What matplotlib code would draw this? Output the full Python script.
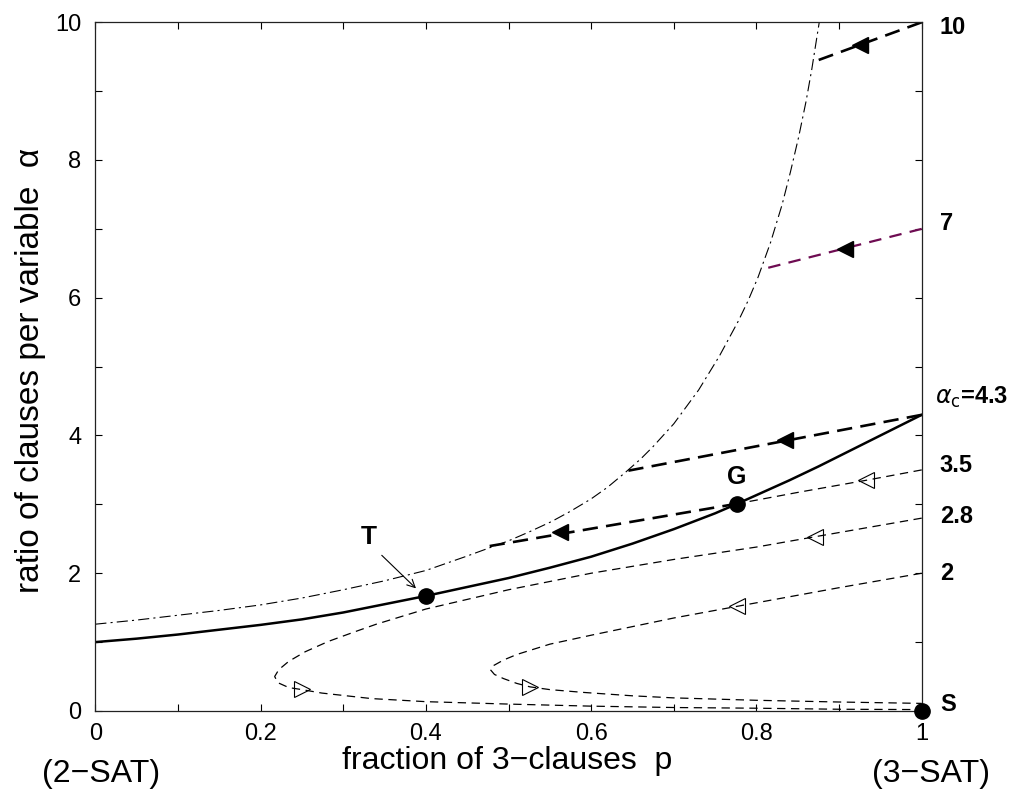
import matplotlib
matplotlib.use('Agg')
import matplotlib.pyplot as plt
import matplotlib.ticker as plticker

plt.rcParams['font.family'] = ['Liberation Sans', 'DejaVu Sans']
plt.rcParams['lines.scale_dashes'] = False

# threshold line alpha_c(p), solid
threshP = [0.0, 0.05, 0.1, 0.15, 0.2, 0.25, 0.3, 0.35, 0.4, 0.45, 0.5, 0.55,
           0.6, 0.65, 0.7, 0.75, 0.777, 0.84, 0.875, 0.9, 0.925, 0.95, 0.975, 1.0]
threshA = [1.0, 1.05, 1.11, 1.18, 1.25, 1.33, 1.43, 1.55, 1.67, 1.80, 1.93, 2.08,
           2.24, 2.43, 2.64, 2.87, 3.01, 3.35, 3.55, 3.70, 3.85, 4.00, 4.15, 4.3]

# dash-dot curve (where the unsat trajectories stop)
haltP = [0.0, 0.05, 0.1, 0.15, 0.2, 0.25, 0.3, 0.35, 0.4, 0.45, 0.475, 0.5,
         0.525, 0.552, 0.575, 0.6, 0.62, 0.641, 0.66, 0.675, 0.7, 0.73, 0.755,
         0.778, 0.79, 0.802, 0.817, 0.831, 0.841, 0.851, 0.86, 0.867, 0.874,
         0.876]
haltA = [1.26, 1.32, 1.39, 1.46, 1.54, 1.64, 1.76, 1.89, 2.04, 2.25, 2.36, 2.47,
         2.60, 2.75, 2.90, 3.08, 3.25, 3.46, 3.66, 3.84, 4.17, 4.66, 5.15,
         5.66, 5.96, 6.30, 6.80, 7.35, 7.82, 8.33, 8.85, 9.32, 9.85, 10.0]

# trajectories in the sat region (thin dashed, open triangles)
traj35P = [1.0, 0.933, 0.853, 0.777]
traj35A = [3.5, 3.35, 3.18, 3.01]
traj28P = [1.0, 0.871, 0.8, 0.7, 0.6, 0.5, 0.45, 0.4, 0.34, 0.314, 0.282, 0.254,
           0.234, 0.222, 0.217, 0.221, 0.234, 0.25, 0.274, 0.334, 0.4, 0.5,
           0.6, 0.7, 0.8, 0.9, 1.0]
traj28A = [2.8, 2.53, 2.38, 2.20, 2.0, 1.76, 1.62, 1.48, 1.26, 1.15, 1.01, 0.86,
           0.72, 0.60, 0.50, 0.41, 0.34, 0.31, 0.26, 0.18, 0.135, 0.10,
           0.07, 0.05, 0.04, 0.025, 0.02]
traj2P = [1.0, 0.9, 0.777, 0.7, 0.6, 0.55, 0.51, 0.494, 0.482, 0.478, 0.483,
          0.494, 0.51, 0.526, 0.55, 0.59, 0.65, 0.7, 0.8, 0.9, 1.0]
traj2A = [2.0, 1.79, 1.52, 1.35, 1.10, 0.97, 0.82, 0.74, 0.66, 0.60, 0.53,
          0.47, 0.40, 0.35, 0.31, 0.27, 0.22, 0.19, 0.155, 0.13, 0.11]
openLeftP = [0.933, 0.871, 0.777]
openLeftA = [3.35, 2.53, 1.52]
openRightP = [0.25, 0.526]
openRightA = [0.315, 0.35]

# trajectories in the unsat region (thick dashed, filled triangles)
traj10P = [1.0, 0.868]
traj10A = [10.0, 9.42]
traj7P = [1.0, 0.806]
traj7A = [7.0, 6.41]
traj43P = [1.0, 0.641]
traj43A = [4.3, 3.48]
trajGP = [0.777, 0.475]
trajGA = [3.01, 2.39]
filledP = [0.925, 0.835, 0.562]
filledA = [9.67, 3.93, 2.60]
purpleTriP = [0.907]
purpleTriA = [6.71]

# special points T, G, S
pointP = [0.4, 0.777, 1.0]
pointA = [1.67, 3.01, 0.0]

rightLabels = ['10', '7', '3.5', '2.8', '2', 'S']
rightLabelA = [9.92, 7.08, 3.57, 2.82, 2.0, 0.09]

fig = plt.figure(figsize=(10.11, 7.89), dpi=100)
ax = fig.add_axes([0.0943, 0.0989, 0.8174, 0.8729])

ax.plot(haltP, haltA, color='k', lw=0.8, dashes=(8, 3, 1.5, 3))
ax.plot(traj35P, traj35A, color='k', lw=0.9, dashes=(6, 4))
ax.plot(traj28P, traj28A, color='k', lw=0.9, dashes=(6, 4))
ax.plot(traj2P, traj2A, color='k', lw=0.9, dashes=(6, 4))
ax.plot(openLeftP, openLeftA, ls='none', marker='<', ms=12, mfc='none',
        mec='k', mew=0.8)
ax.plot(openRightP, openRightA, ls='none', marker='>', ms=12, mfc='none',
        mec='k', mew=0.8)

ax.plot(traj10P, traj10A, color='k', lw=1.9, dashes=(11, 6))
ax.plot(traj7P, traj7A, color='#6e0c52', lw=1.6, dashes=(9, 6))
ax.plot(traj43P, traj43A, color='k', lw=1.9, dashes=(11, 6))
ax.plot(trajGP, trajGA, color='k', lw=1.9, dashes=(11, 6))
ax.plot(filledP, filledA, ls='none', marker='<', ms=12, color='k')
ax.plot(purpleTriP, purpleTriA, ls='none', marker='<', ms=12, color='k')

ax.plot(threshP, threshA, color='k', lw=1.8)
ax.plot(pointP, pointA, ls='none', marker='o', ms=11, color='k',
        clip_on=False, zorder=5)

ax.annotate('', xy=(0.388, 1.78), xytext=(0.3466, 2.26),
            arrowprops=dict(arrowstyle='->', lw=0.8, color='k',
                            mutation_scale=14, shrinkA=0, shrinkB=0))
ax.text(0.331, 2.53, 'T', fontsize=19, fontweight='bold', ha='center',
        va='center')
ax.text(0.776, 3.40, 'G', fontsize=18, fontweight='bold', ha='center',
        va='center')

for lab, a in zip(rightLabels, rightLabelA):
    ax.text(1.022, a, lab, fontsize=17, fontweight='bold', ha='left',
            va='center', clip_on=False)
ax.text(1.016, 4.55, r'$\alpha_\mathrm{c}$=4.3', fontsize=17,
        fontweight='bold', ha='left', va='center', clip_on=False)

ax.set_xlim(0, 1)
ax.set_ylim(0, 10)
ax.xaxis.set_major_locator(plticker.MultipleLocator(0.2))
ax.xaxis.set_minor_locator(plticker.MultipleLocator(0.1))
ax.yaxis.set_major_locator(plticker.MultipleLocator(2))
ax.yaxis.set_minor_locator(plticker.MultipleLocator(1))
ax.xaxis.set_major_formatter(plticker.FuncFormatter(lambda v, pos: f'{v:g}'))
ax.tick_params(which='both', direction='in', top=True, right=True,
               length=5, width=0.8, labelsize=17)
ax.tick_params(axis='x', pad=9)
ax.tick_params(axis='y', pad=10)
ax.tick_params(labelright=False, labeltop=False)
for sp in ax.spines.values():
    sp.set_linewidth(0.9)
    sp.set_color('#222222')

fig.text(507 / 1011, (789 - 769) / 789, 'fraction of 3\u2212clauses  p',
         fontsize=23, ha='center', va='baseline')
fig.text(101 / 1011, (789 - 782) / 789, '(2\u2212SAT)', fontsize=23,
         ha='center', va='baseline')
fig.text(931 / 1011, (789 - 782) / 789, '(3\u2212SAT)', fontsize=23,
         ha='center', va='baseline')
fig.text(31 / 1011, 1 - 370 / 789, 'ratio of clauses per variable  \u03b1',
         fontsize=24, rotation=90, ha='center', va='center')

fig.savefig('out.png', dpi=100)
